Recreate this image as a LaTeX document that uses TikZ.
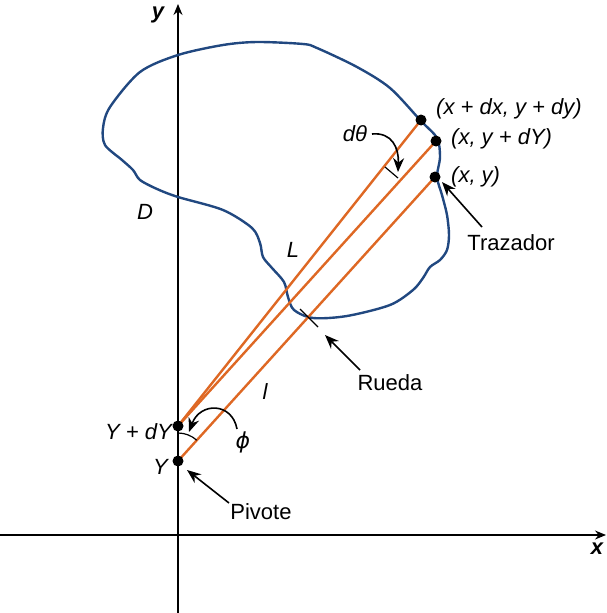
\documentclass[tikz,border=0pt]{standalone}
\usepackage{fontspec}
\setmainfont{Liberation Sans}
\newfontfamily\dvsans{DejaVu Sans}
\usetikzlibrary{arrows.meta}
\definecolor{rodorange}{RGB}{222,104,36}
\definecolor{curveblue}{RGB}{33,72,128}
\begin{document}
\begin{tikzpicture}[x=1pt,y=-1pt,
  lbl/.style={inner sep=0pt,font=\fontsize{22}{26}\selectfont},
  ilbl/.style={lbl,font=\fontsize{22}{26}\selectfont\itshape},
  axis/.style={line width=1.3pt,-{Stealth[length=11pt,width=9pt]}},
  rod/.style={line width=2.4pt,rodorange},
  pointer/.style={line width=1.6pt,-{Stealth[length=14pt,width=11pt]}},
  dotmark/.style={circle,fill=black,inner sep=0pt,minimum size=11pt},
  tick/.style={line width=1.2pt}]
\useasboundingbox (0,0) rectangle (606,613);
% axes
\coordinate (xl) at (0,535);
\coordinate (xr) at (606,535);
\coordinate (yb) at (178,613);
\coordinate (yt) at (178,4);
\draw[axis] (xl) -- (xr);
\draw[axis] (yb) -- (yt);
\node[lbl,font=\fontsize{22}{26}\selectfont\bfseries\itshape] (ylab) at (158,15) {y};
\node[lbl,font=\fontsize{22}{26}\selectfont\bfseries\itshape] (xlab) at (597,549) {x};
% region boundary
\draw[curveblue,line width=2.4pt] plot[smooth cycle,tension=0.5] coordinates {
 (178,55) (223,45) (257,42) (303,44) (317,48) (357,67) (390,88) (421,121)
 (437,138) (440,157) (437,177) (442,195) (447,215) (449,235) (447,250)
 (440,260) (430,267) (423,278) (413,290) (390,305) (347,316) (313,318)
 (294,310) (288,297) (284,282) (272,268) (263,257) (260,243) (252,228)
 (223,210) (178,197) (157,189) (140,180) (133,170) (122,160) (105,145)
 (103,128) (110,107) (140,72)};
% points
\coordinate (Y) at (178,461);
\coordinate (YdY) at (178,426);
\coordinate (Pdx) at (421,120);
\coordinate (PdY) at (436,141);
\coordinate (P) at (435,177);
% rods
\draw[rod] (YdY) -- (Pdx);
\draw[rod] (YdY) -- (PdY);
\draw[rod] (Y) -- (P);
% dots
\node[dotmark] (nY) at (Y) {};
\node[dotmark] (nYdY) at (YdY) {};
\node[dotmark] (nPdx) at (Pdx) {};
\node[dotmark] (nPdY) at (PdY) {};
\node[dotmark] (nP) at (P) {};
% ticks
\coordinate (t1a) at (385,167);
\coordinate (t1b) at (398,178);
\draw[tick] (t1a) -- (t1b);
\coordinate (t2a) at (300,309);
\coordinate (t2b) at (318,327);
\draw[tick] (t2a) -- (t2b);
% phi angle arc
\draw[line width=1.2pt] (178,433) arc[start angle=-90,end angle=-48,radius=28];
% labels
\node[ilbl,anchor=west] (lPdx) at (436,109) {(x + dx, y + dy)};
\node[ilbl,anchor=west] (lPdY) at (451,139) {(x, y + dY)};
\node[ilbl,anchor=west] (lP) at (451,177) {(x, y)};
\node[lbl] (traz) at (511,243) {Trazador};
\node[ilbl] (dth) at (355,134) {dθ};
\node[ilbl] (D) at (145,212) {D};
\node[ilbl] (L) at (293,250) {L};
\node[ilbl] (l) at (265,392) {l};
\node[lbl] (rueda) at (390,383) {Rueda};
\node[ilbl,anchor=east] (lYdY) at (172,432) {Y + dY};
\node[ilbl,anchor=east] (lY) at (168,467) {Y};
\node[lbl] (phi) at (243,442) {\dvsans\itshape ϕ};
\node[lbl] (piv) at (261,512) {Pivote};
% pointers
\coordinate (trT) at (482,227);
\coordinate (trH) at (442,182);
\draw[pointer] (trT) -- (trH);
\coordinate (ruT) at (360,370);
\coordinate (ruH) at (325,335);
\draw[pointer] (ruT) -- (ruH);
\coordinate (pvT) at (229,503);
\coordinate (pvH) at (187,470);
\draw[pointer] (pvT) -- (pvH);
\coordinate (dthT) at (372,134);
\coordinate (dthH) at (398,172);
\draw[pointer] (dthT) .. controls (392,132) and (399,148) .. (dthH);
\coordinate (phT) at (237,429);
\coordinate (phH) at (189,432);
\draw[pointer] (phT) .. controls (232,402) and (200,402) .. (phH);
\end{tikzpicture}
\end{document}
